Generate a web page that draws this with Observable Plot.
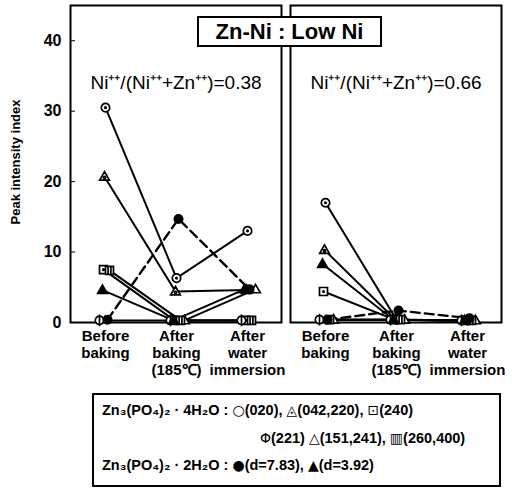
<!DOCTYPE html>
<html><head><meta charset="utf-8">
<script src="https://cdn.jsdelivr.net/npm/d3@7"></script>
<script src="https://cdn.jsdelivr.net/npm/@observablehq/plot@0.6"></script>
<style>
body{margin:0;background:#fff;font-family:"Liberation Sans",Arial,sans-serif;color:#000;}
#wrap{position:relative;width:526px;height:489px;}
#title{position:absolute;left:197px;top:16px;width:181px;height:27px;border:2px solid #000;background:#fff;font-weight:bold;font-size:22px;line-height:27px;text-align:center;}
#ylab{position:absolute;left:15px;top:162px;transform:translate(-50%,-50%) rotate(-90deg);white-space:nowrap;font-size:13px;font-weight:bold;}
#legend{position:absolute;left:92px;top:393px;width:405px;height:90px;border:2px solid #000;font-size:14.5px;font-weight:bold;}
.l{position:absolute;white-space:nowrap;}
.s{font-family:"DejaVu Sans",sans-serif;font-size:14px;font-weight:normal;}
svg{position:absolute;left:0;top:0;}
</style></head>
<body><div id="wrap"></div>
<script>
// ---- data ----
const stages = ["Before\nbaking", "After\nbaking\n(185℃)", "After\nwater\nimmersion"];
const panels = ["Ni⁺⁺/(Ni⁺⁺+Zn⁺⁺)=0.38", "Ni⁺⁺/(Ni⁺⁺+Zn⁺⁺)=0.66"];
const chartTitle = "Zn-Ni : Low Ni";
const yLabel = "Peak intensity index";
const yTicks = [0, 10, 20, 30, 40];
const hydrate4 = "Zn₃(PO₄)₂ · 4H₂O";
const hydrate2 = "Zn₃(PO₄)₂ · 2H₂O";
const seriesLabels = ["(020)", "(042,220)", "(240)", "(221)", "(151,241)", "(260,400)", "(d=7.83)", "(d=3.92)"];
const legendSymbols = ["○", "◬", "⊡", "Φ", "△", "▥", "●", "▲"];
// values per series (same order as seriesLabels): before baking, after baking, after water immersion
const ratio038 = [
  [30.5, 6.3, 13.0],
  [20.7, 4.4, 4.6],
  [7.5, 0.3, 0.3],
  [0.3, 0.3, 0.3],
  [null, 0.3, 4.7],
  [7.4, 0.3, 0.3],
  [0.4, 14.7, 4.7],
  [4.6, 0.3, 4.7]
];
const ratio066 = [
  [17.0, 0.4, 0.3],
  [10.3, 0.4, 0.3],
  [4.4, 0.4, 0.3],
  [0.4, 0.4, 0.3],
  [0.4, 0.4, 0.3],
  [0.4, 0.4, 0.3],
  [0.4, 1.7, 0.6],
  [8.3, 0.4, 0.3]
];

// ---- symbols ----
const rad = s => Math.sqrt(s / Math.PI);
const dotAt = (c, x, y, d) => { c.moveTo(x + d, y); c.arc(x, y, d, 0, 2 * Math.PI); };
const triPath = (c, r) => { c.moveTo(0, -r * 1.2); c.lineTo(r * 1.15, r * 0.8); c.lineTo(-r * 1.15, r * 0.8); c.closePath(); };
const circlePath = (c, r) => { c.moveTo(r, 0); c.arc(0, 0, r, 0, 2 * Math.PI); };
const squarePath = (c, r) => { const h = r * 0.95; c.rect(-h, -h, 2 * h, 2 * h); };
const symbols = [
  {draw(c, s) { const r = rad(s); circlePath(c, r); dotAt(c, 0, 0, 0.7); }},
  {draw(c, s) { const r = rad(s); triPath(c, r); dotAt(c, 0, r * 0.2, 1.1); }},
  {draw(c, s) { const r = rad(s); squarePath(c, r); dotAt(c, 0, 0, 0.7); }},
  {draw(c, s) { const r = rad(s); circlePath(c, r); c.moveTo(0, -r * 1.4); c.lineTo(0, r * 1.4); }},
  {draw(c, s) { const r = rad(s); triPath(c, r); }},
  {draw(c, s) { const r = rad(s); squarePath(c, r); c.moveTo(-r / 3, -r); c.lineTo(-r / 3, r); c.moveTo(r / 3, -r); c.lineTo(r / 3, r); }},
  {draw(c, s) { const r = rad(s); circlePath(c, r); }},
  {draw(c, s) { const r = rad(s); triPath(c, r); }}
];
const fills = ["white", "white", "white", "white", "white", "white", "black", "black"];
const offsets = [0, -1, -2, -6, 8, 4, 2, -3];
const dashed = [false, false, false, false, false, false, true, false];

// ---- rows ----
const rows = [];
[ratio038, ratio066].forEach((tbl, p) => tbl.forEach((vals, s) => vals.forEach((v, i) => {
  rows.push({panel: panels[p], series: s, stage: stages[i], value: v});
})));

const seriesMarks = [];
seriesLabels.forEach((lab, s) => {
  const d = rows.filter(r => r.series === s);
  seriesMarks.push(Plot.line(d, {x: "stage", y: "value", fx: "panel", stroke: "#000",
    strokeWidth: dashed[s] ? 2.4 : 2, strokeDasharray: dashed[s] ? "9,5" : null, dx: offsets[s]}));
});
seriesLabels.forEach((lab, s) => {
  const d = rows.filter(r => r.series === s && r.value != null);
  seriesMarks.push(Plot.dot(d, {x: "stage", y: "value", fx: "panel", symbol: symbols[s], r: 4.2,
    fill: fills[s], stroke: "#000", strokeWidth: 1.7, dx: offsets[s]}));
});

const chart = Plot.plot({
  width: 526, height: 389,
  marginLeft: 69, marginRight: 24, marginTop: 5, marginBottom: 67,
  style: {fontFamily: "Liberation Sans, Arial, sans-serif", fontSize: "15px", fontWeight: "bold", color: "#000", background: "transparent"},
  fx: {domain: panels, paddingInner: 0.04, paddingOuter: 0, axis: null, label: null},
  x: {type: "point", domain: stages, padding: 0.47, label: null},
  y: {domain: [0, 45], label: null},
  marks: [
    Plot.frame({stroke: "#000", strokeWidth: 2}),
    Plot.axisY({ticks: yTicks, tickSize: -5, tickPadding: 14, label: null, fontSize: 16}),
    Plot.axisX({tickSize: 0, tickPadding: 6, label: null, fontSize: 15, lineHeight: 1.15}),
    ...seriesMarks,
    Plot.text(panels, {fx: d => d, text: d => d, frameAnchor: "top", dy: 70, fontSize: 19, fontWeight: "normal"})
  ]
});

const wrap = document.getElementById("wrap");
wrap.appendChild(chart);
const t = document.createElement("div"); t.id = "title"; t.textContent = chartTitle; wrap.appendChild(t);
const yl = document.createElement("div"); yl.id = "ylab"; yl.textContent = yLabel; wrap.appendChild(yl);
const lg = document.createElement("div"); lg.id = "legend"; wrap.appendChild(lg);
const L = (parts, left, top) => {
  const e = document.createElement("div"); e.className = "l"; e.style.left = left + "px"; e.style.top = top + "px";
  parts.forEach(([txt, sym]) => { const sp = document.createElement("span"); if (sym) sp.className = "s"; sp.textContent = txt; e.appendChild(sp); });
  lg.appendChild(e);
};
const item = i => [[legendSymbols[i], true], [seriesLabels[i], false]];
L([[hydrate4 + " : "], ...item(0), [", "], ...item(1), [", "], ...item(2)], 8, 7);
L([...item(3), [" "], ...item(4), [", "], ...item(5)], 166, 35);
L([[hydrate2 + " : "], ...item(6), [", "], ...item(7)], 8, 62);
</script>
</body></html>
